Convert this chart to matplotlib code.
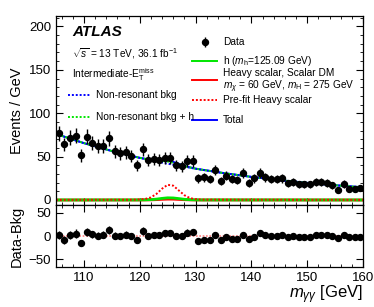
import numpy as np
import matplotlib
matplotlib.use('Agg')
import matplotlib.pyplot as plt
from matplotlib.ticker import MultipleLocator

matplotlib.rcParams['font.family'] = ['Liberation Sans', 'DejaVu Sans']
matplotlib.rcParams['mathtext.fontset'] = 'custom'
matplotlib.rcParams['mathtext.rm'] = 'Liberation Sans'
matplotlib.rcParams['mathtext.it'] = 'Liberation Sans:italic'
matplotlib.rcParams['mathtext.bf'] = 'Liberation Sans:bold'

# data, 1 GeV bins, centres 105.5 ... 159.5
m_data = np.arange(105.5, 160.0, 1.0)
n_data = [77, 64, 72, 74, 51.5, 73, 66, 62, 62, 71,
          56, 54, 55, 51, 40, 58.5, 46, 47, 46, 48,
          48, 40, 39, 45, 45, 25, 26, 24, 34.5, 22,
          28, 24, 23, 31, 20, 25, 31.5, 26, 24, 24,
          25, 19, 21, 18, 18, 18, 21, 21, 20, 17,
          11.5, 18.5, 13, 13, 13.5]

# non-resonant background fit
m_bkg = [105, 110, 115, 120, 125, 130, 135, 140, 145, 150, 155, 160]
bkg = [76.1, 65.5, 56.4, 48.5, 41.8, 36.0, 31.0, 26.6, 22.9, 19.7, 17.0, 14.6]

# signal shapes
m_sig = [105, 119, 120, 121, 122, 123, 124, 125, 126, 127, 128, 129, 130, 131, 160]
h_sm = [0, 0.03, 0.08, 0.18, 0.43, 1.0, 1.85, 2.5, 2.35, 1.6, 0.8, 0.32, 0.12, 0.04, 0]
heavy = [0, 0.01, 0.03, 0.07, 0.17, 0.4, 0.75, 1.0, 0.95, 0.63, 0.31, 0.13, 0.05, 0.02, 0]
prefit = [0, 0.2, 0.5, 1.2, 3.0, 7.0, 13.0, 17.5, 16.5, 11.0, 5.5, 2.2, 0.8, 0.3, 0]

n_data = np.array(n_data)
err = np.sqrt(n_data)
grid = np.union1d(m_bkg, m_sig)
bkg_g = np.interp(grid, m_bkg, bkg)
h_g = np.interp(grid, m_sig, h_sm)
hv_g = np.interp(grid, m_sig, heavy)
resid = n_data - np.interp(m_data, m_bkg, bkg)

fig = plt.figure(figsize=(3.74, 3.07), dpi=100)
ax1 = fig.add_axes([0.1497, 0.3322, 0.821, 0.6156])
ax2 = fig.add_axes([0.1497, 0.1303, 0.821, 0.2019], sharex=ax1)

ax1.plot(grid, hv_g, color='red', lw=2)
ax1.plot(grid, h_g, color='#00e600', lw=2)
ax1.plot(m_sig, prefit, color='red', lw=1.4, ls=(0, (1, 1)))
ax1.plot(grid, bkg_g + h_g + hv_g, color='blue', lw=1.4)
ax1.plot(grid, bkg_g, color='blue', lw=1.4, ls=(0, (1, 1)))
ax1.plot(grid, bkg_g + h_g, color='#00e600', lw=1.4, ls=(1, (1, 1)))
ax1.errorbar(m_data, n_data, yerr=err, fmt='o', color='k', ms=4.3, lw=1, capsize=0)

ax1.set_xlim(105, 160)
ax1.set_ylim(-5.8, 212)
ax1.set_ylabel('Events / GeV', fontsize=10.5)
ax1.yaxis.set_label_coords(-0.105, 0.5)

# lower panel
ax2.axhline(0, color='#ff8080', lw=1.2, ls=(0, (1, 1)))
ax2.errorbar(m_data, resid, yerr=err, fmt='o', color='k', ms=4.3, lw=1, capsize=0)
ax2.set_ylim(-66, 66)
ax2.set_ylabel('Data-Bkg', fontsize=10.5)
ax2.yaxis.set_label_coords(-0.105, 0.5)
ax2.set_xlabel(r'$m_{\gamma\gamma}$ [GeV]', fontsize=12)
ax2.xaxis.set_label_coords(1.0, -0.27)
ax2.xaxis.label.set_horizontalalignment('right')

for ax in (ax1, ax2):
    ax.tick_params(which='both', direction='in', top=True, right=True, labelsize=9.5)
    ax.tick_params(which='major', length=5)
    ax.tick_params(which='minor', length=2.5)
    ax.xaxis.set_major_locator(MultipleLocator(10))
    ax.xaxis.set_minor_locator(MultipleLocator(2))
    for s in ax.spines.values():
        s.set_linewidth(0.9)
ax1.yaxis.set_major_locator(MultipleLocator(50))
ax1.yaxis.set_minor_locator(MultipleLocator(10))
ax2.yaxis.set_major_locator(MultipleLocator(50))
ax2.yaxis.set_minor_locator(MultipleLocator(50))
plt.setp(ax1.get_xticklabels(), visible=False)

# labels
tr = ax1.transAxes
fs = 7.3
ax1.text(0.052, 0.894, 'ATLAS', transform=tr, fontsize=11, fontweight='bold', style='italic')
ax1.text(0.052, 0.778, r'$\sqrt{s}$ = 13 TeV, 36.1 fb$^{-1}$', transform=tr, fontsize=fs)
ax1.text(0.052, 0.672, r'Intermediate-E$_{\mathrm{T}}^{\mathrm{miss}}$', transform=tr, fontsize=fs)

def entry(x0, x1, y, text, **kw):
    ax1.plot([x0, x1], [y, y], transform=tr, **kw)
    ax1.text(x1 + 0.018, y, text, transform=tr, fontsize=fs, va='center')

entry(0.039, 0.111, 0.582, 'Non-resonant bkg', color='blue', lw=1.4, ls=(0, (1, 1)))
entry(0.039, 0.111, 0.466, 'Non-resonant bkg + h', color='#00e600', lw=1.4, ls=(0, (1, 1)))

ax1.errorbar([0.485], [0.862], yerr=[0.025], fmt='o', color='k', ms=4.3, lw=1,
             transform=tr)
ax1.text(0.544, 0.862, 'Data', transform=tr, fontsize=fs, va='center')
entry(0.443, 0.526, 0.764, r'h ($m_{\mathrm{h}}$=125.09 GeV)', color='#00e600', lw=1.4)
ax1.plot([0.443, 0.526], [0.661, 0.661], transform=tr, color='red', lw=1.4)
ax1.text(0.544, 0.697, 'Heavy scalar, Scalar DM', transform=tr, fontsize=fs, va='center')
ax1.text(0.544, 0.624, r'$m_{\chi}$ = 60 GeV, $m_{\mathrm{H}}$ = 275 GeV', transform=tr,
         fontsize=fs, va='center')
entry(0.443, 0.526, 0.556, 'Pre-fit Heavy scalar', color='red', lw=1.4, ls=(0, (1, 1)))
entry(0.443, 0.526, 0.450, 'Total', color='blue', lw=1.4)

fig.savefig('out.png', dpi=100)
